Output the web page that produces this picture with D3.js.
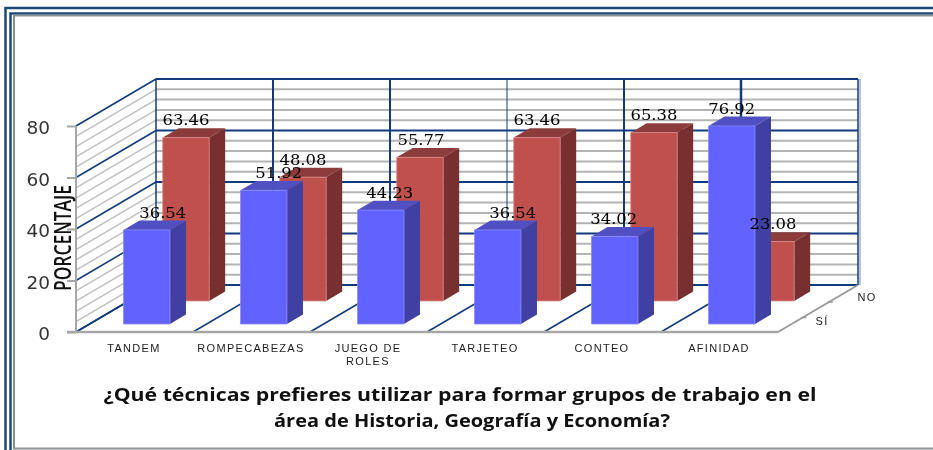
<!DOCTYPE html>
<html><head><meta charset="utf-8">
<script src="https://cdn.jsdelivr.net/npm/d3@7"></script>
<style>html,body{margin:0;padding:0;background:#fff}svg{display:block;filter:blur(0.4px)}</style></head>
<body><svg id="c" width="933" height="450"></svg>
<script>
const categories = ["TANDEM","ROMPECABEZAS","JUEGO DE|ROLES","TARJETEO","CONTEO","AFINIDAD"];
const siValues = [36.54,51.92,44.23,36.54,34.02,76.92];
const noValues = [63.46,48.08,55.77,63.46,65.38,23.08];
const yTicks = [0,20,40,60,80];
const minorTicks = d3.range(0,81,4);
const depthLabels = ["SÍ","NO"];
const titleLines = ["¿Qué técnicas prefieres utilizar para formar grupos de trabajo en el","área de Historia, Geografía y Economía?"];
const yTitle = "PORCENTAJE";

const svg = d3.select("#c");
const NAVY="#123a7c", GRID="#b4b4b4", AXIS="#a6a6a6";
const x0=76, dxBack=80, dyBack=47;
const xBand = d3.scaleBand().domain(categories).range([0,702]);
const y = d3.scaleLinear().domain([0,80]).range([332,126]);
const dScale = d3.scaleLinear().domain([0,1]).range([0,1]);
const px=(x,d)=>x0+x+dxBack*dScale(d);
const py=(v,d)=>y(v)-dyBack*dScale(d);
const W=xBand.range()[1];
const line=(a,b,c,w)=>svg.append("line").attr("x1",a[0]).attr("y1",a[1]).attr("x2",b[0]).attr("y2",b[1]).attr("stroke",c).attr("stroke-width",w);

// frame
const fr=svg.append("g").attr("fill","none");
fr.append("path").attr("d","M933 8H5.5V450").attr("stroke","#1f4a78").attr("stroke-width",2.5);
fr.append("path").attr("d","M933 13.5H10.5V450").attr("stroke","#1f4a78").attr("stroke-width",2.5);
fr.append("path").attr("d","M933 15.5H14V448.5H933").attr("stroke","#8a8f96").attr("stroke-width",2);

// side wall and back wall minor grid
minorTicks.filter(v=>v%20).forEach(v=>{
  line([px(0,0),py(v,0)],[px(0,1),py(v,1)],"#c0c0c0",1.5);
  line([px(0,1),py(v,1)],[px(W,1),py(v,1)],GRID,2);
});
yTicks.forEach(v=>{
  line([px(0,0),py(v,0)],[px(0,1),py(v,1)],NAVY,1.5);
  line([px(0,1),py(v,1)],[px(W,1),py(v,1)],NAVY,2);
});
// verticals + floor lines
const wallWidths=[1.5,2,2,1,2,2.5,1.5];
[...categories.map(c=>xBand(c)),W].forEach((v,i)=>{
  line([px(v,1),py(0,1)],[px(v,1),py(80,1)],NAVY,wallWidths[i]);
  if(v<W) line([px(v,0),py(0,0)],[px(v,1),py(0,1)],NAVY,1.5);
});
line([px(W,1)+2,py(0,1)],[px(W,1)+2,py(80,1)],"#b8c2de",2);

// bars
function bar(cat,val,dFront,c){
  const x=xBand(cat)+xBand.bandwidth()*0.29, w=xBand.bandwidth()*0.397, dBack=dFront+0.2;
  const P=(xx,v,d)=>[px(xx,d),py(v,d)];
  const g=svg.append("g");
  g.append("polygon").attr("fill",c[2]).attr("points",[P(x+w,0,dFront),P(x+w,val,dFront),P(x+w,val,dBack),P(x+w,0,dBack)].join(" "));
  g.append("polygon").attr("fill",c[1]).attr("points",[P(x,val,dFront),P(x+w,val,dFront),P(x+w,val,dBack),P(x,val,dBack)].join(" "));
  g.append("polygon").attr("fill",c[0]).attr("stroke",c[3]).attr("stroke-width",0.8).attr("points",[P(x,0,dFront),P(x+w,0,dFront),P(x+w,val,dFront),P(x,val,dFront)].join(" "));
  return {cx:px(x+w/2,dFront), top:py(val,dBack)};
}
const RED=["#c0504d","#8c3d3b","#77302f","#d98a88"], BLUE=["#6262ff","#5050c2","#4040a2","#8a8aff"];
const siNudge=[16,15,9,15,-1,0], noNudge=[0,0,1,0,0,2];
const labels=[];
categories.forEach((c,i)=>{const b=bar(c,noValues[i],0.66,RED);labels.push({...b,v:noValues[i],nudge:noNudge[i]});});
categories.forEach((c,i)=>{const b=bar(c,siValues[i],0.17,BLUE);labels.push({...b,v:siValues[i],nudge:siNudge[i]});});

// value labels
svg.append("g").selectAll("text").data(labels).join("text")
  .attr("x",d=>d.cx+d.nudge).attr("y",d=>d.top-3)
  .attr("text-anchor","middle").attr("font-family","DejaVu Serif").attr("font-size",15.5)
  .attr("textLength",47).attr("lengthAdjust","spacingAndGlyphs")
  .attr("fill","#000").text(d=>d.v.toFixed(2));

// axes
line([px(0,0),y(0)],[px(0,0),y(80)],AXIS,2);
line([67,y(0)],[px(W,0),y(0)],AXIS,2.5);
line([px(W,0),y(0)],[px(W,1),py(0,1)],"#9a9a9a",2);
const axis=d3.axisLeft(y).tickValues(yTicks).tickSize(9).tickPadding(17).tickFormat(d3.format("d"));
const ag=svg.append("g").attr("transform",`translate(${x0},0)`).call(axis);
ag.select(".domain").remove();
ag.selectAll("line").attr("stroke",AXIS).attr("stroke-width",2);
ag.selectAll("text").attr("font-family","DejaVu Sans").attr("font-size",18.5).attr("fill","#333").attr("dy","0.42em");

// depth ticks + labels
[0.33,0.66].forEach((d,i)=>{
  line([px(W,d)-3,py(0,d)+1],[px(W,d)+2,py(0,d)+1],"#9a9a9a",1.5);
  svg.append("text").attr("x",i?867:822).attr("y",i?301:325).attr("text-anchor","middle")
    .attr("font-family","Liberation Sans").attr("font-size",11).attr("letter-spacing",1.2).attr("fill","#222").text(depthLabels[i]);
});

// category labels
categories.forEach(c=>{
  c.split("|").forEach((t,j)=>{
    svg.append("text").attr("x",x0+xBand(c)+xBand.bandwidth()/2-0.5).attr("y",352+j*13)
      .attr("text-anchor","middle").attr("font-family","Liberation Sans").attr("font-size",11)
      .attr("letter-spacing",1.3).attr("fill","#222").text(t);
  });
});

// y title
svg.append("text").attr("transform","translate(71,238) rotate(-90)").attr("text-anchor","middle")
  .attr("font-family","Open Sans").attr("font-weight",600).attr("font-size",23)
  .attr("textLength",106).attr("lengthAdjust","spacingAndGlyphs").attr("fill","#111").text(yTitle);

// title
[[460,401,713],[472,427,396]].forEach((p,i)=>{
  svg.append("text").attr("x",p[0]).attr("y",p[1]).attr("text-anchor","middle")
    .attr("font-family","Open Sans").attr("font-weight",700).attr("font-size",17.5)
    .attr("textLength",p[2]).attr("lengthAdjust","spacingAndGlyphs").attr("fill","#111").text(titleLines[i]);
});
</script></body></html>
